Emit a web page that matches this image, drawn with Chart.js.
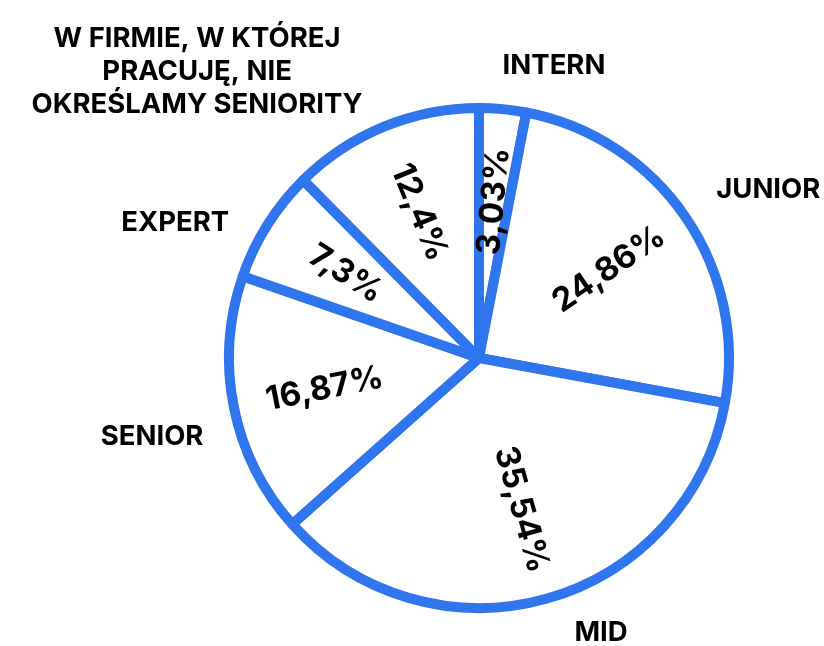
<!DOCTYPE html>
<html>
<head>
<meta charset="utf-8">
<script src="https://cdn.jsdelivr.net/npm/chart.js@4"></script>
<style>
  html, body { margin: 0; padding: 0; background: #ffffff; }
  #wrap { width: 824px; height: 646px; }
</style>
</head>
<body>
<div id="wrap"><canvas id="c" width="824" height="646"></canvas></div>
<script>
// ---- data ----
const categories = [
  'INTERN',
  'JUNIOR',
  'MID',
  'SENIOR',
  'EXPERT',
  ['W FIRMIE, W KTÓREJ', 'PRACUJĘ, NIE', 'OKREŚLAMY SENIORITY']
];
const shares = [3.03, 24.86, 35.54, 16.87, 7.3, 12.4];

// ---- style ----
const BLUE = '#2f75ee';
const TEXT = '#000000';
const FONT = 'Inter, "Open Sans", sans-serif';
const PCT_FONT = 33;
const CAT_FONT = 27.5;
const CAT_LINE = 33;
const PCT_RADIUS = 0.63;
const CAT_GAP = 30;
// small per-label nudges (px) applied after geometric placement
const labelNudge = [[-3, -5], [6, -2], [20, -7], [-1, 12], [-13, 22], [-10, 14]];

const fmtPct = v => String(v).replace('.', ',') + '%';

const sliceLabels = {
  id: 'sliceLabels',
  afterDatasetsDraw(chart) {
    const ctx = chart.ctx;
    const meta = chart.getDatasetMeta(0);
    meta.data.forEach((arc, i) => {
      const p = arc.getProps(['x', 'y', 'startAngle', 'endAngle', 'outerRadius'], true);
      const mid = (p.startAngle + p.endAngle) / 2;
      const c = Math.cos(mid), s = Math.sin(mid);

      // percentage inside the slice, rotated along the radius
      ctx.save();
      ctx.translate(p.x + c * p.outerRadius * PCT_RADIUS, p.y + s * p.outerRadius * PCT_RADIUS);
      ctx.rotate(c < 0 ? mid + Math.PI : mid);
      ctx.font = `700 ${PCT_FONT}px ${FONT}`;
      ctx.fillStyle = TEXT;
      ctx.textAlign = 'center';
      ctx.textBaseline = 'middle';
      ctx.fillText(fmtPct(shares[i]), 0, 0);
      ctx.restore();

      // category label outside the pie
      const lab = chart.data.labels[i];
      const lines = Array.isArray(lab) ? lab : [lab];
      ctx.save();
      ctx.font = `700 ${CAT_FONT}px ${FONT}`;
      ctx.fillStyle = TEXT;
      ctx.textBaseline = 'alphabetic';
      ctx.textAlign = 'center';
      const W = Math.max(...lines.map(l => ctx.measureText(l).width));
      const cap = CAT_FONT * 0.727;
      const nd = labelNudge[i] || [0, 0];
      const px = p.x + c * (p.outerRadius + CAT_GAP) + nd[0];
      const py = p.y + s * (p.outerRadius + CAT_GAP) + nd[1];
      const left = c >= 0 ? px : px - W;
      const firstBase = s < 0 ? py - (lines.length - 1) * CAT_LINE : py + cap;
      lines.forEach((l, k) => ctx.fillText(l, left + W / 2, firstBase + k * CAT_LINE));
      ctx.restore();
    });
  }
};

new Chart(document.getElementById('c'), {
  type: 'pie',
  data: {
    labels: categories,
    datasets: [{
      data: shares,
      backgroundColor: '#ffffff',
      borderColor: BLUE,
      borderWidth: 10,
      hoverOffset: 0
    }]
  },
  options: {
    responsive: false,
    animation: false,
    devicePixelRatio: 1,
    events: [],
    layout: { padding: { left: 224, right: 90, top: 103, bottom: 33 } },
    plugins: {
      legend: { display: false },
      tooltip: { enabled: false },
      title: { display: false }
    }
  },
  plugins: [sliceLabels]
});
</script>
</body>
</html>
